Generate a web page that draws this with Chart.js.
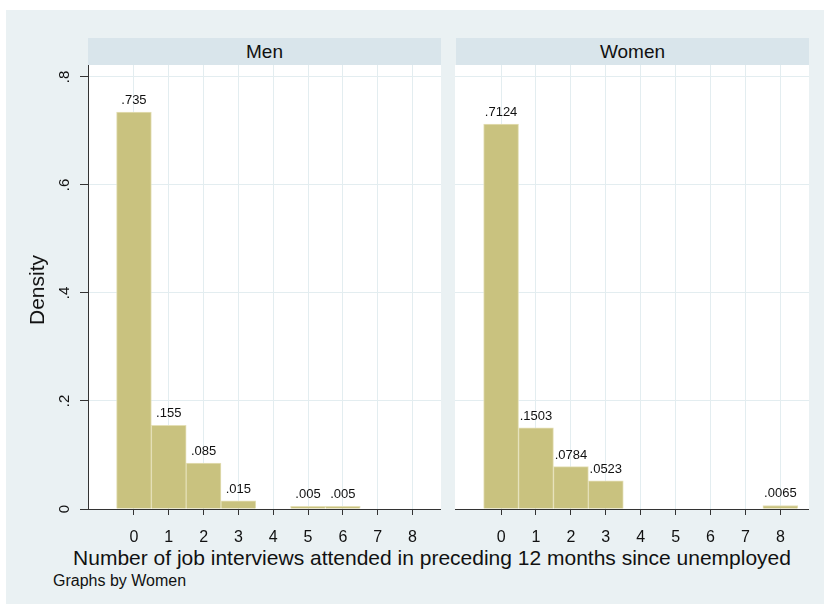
<!DOCTYPE html>
<html>
<head>
<meta charset="utf-8">
<script src="https://cdn.jsdelivr.net/npm/chart.js@4.4.0/dist/chart.umd.min.js"></script>
<style>
body { margin:0; background:#fff; font-family:"Liberation Sans", Arial, sans-serif; color:#111; }
#graph { position:absolute; left:6px; top:10px; width:818px; height:594px; background:#eaf1f3; }
.strip { position:absolute; top:38px; height:27px; line-height:27px; width:353px; background:#d9e5eb; text-align:center; font-size:19px; }
.txt { position:absolute; white-space:nowrap; }
canvas { position:absolute; }
</style>
</head>
<body>
<div id="graph"></div>
<div class="strip" style="left:88px">Men</div>
<div class="strip" style="left:456px">Women</div>
<canvas id="men" width="441" height="480" style="left:0px;top:65px"></canvas>
<canvas id="women" width="354" height="480" style="left:455px;top:65px"></canvas>
<div class="txt" style="left:37px;top:290px;font-size:21px;transform:translate(-50%,-50%) rotate(-90deg)">Density</div>
<div class="txt" style="left:432px;top:558px;font-size:21px;transform:translate(-50%,-50%)">Number of job interviews attended in preceding 12 months since unemployed</div>
<div class="txt" style="left:53px;top:581px;font-size:16px;transform:translateY(-50%)">Graphs by Women</div>
<script>
var bins = [0, 1, 2, 3, 4, 5, 6, 7, 8];
var menDensity = [0.735, 0.155, 0.085, 0.015, 0, 0.005, 0.005, 0, 0];
var womenDensity = [0.7124, 0.1503, 0.0784, 0.0523, 0, 0, 0, 0, 0.0065];
var yTicks = [0, 0.2, 0.4, 0.6, 0.8];
var xTicks = bins;

var FONT = '"Liberation Sans", Arial, sans-serif';

// stata style: drop the leading zero
function fmt(v) {
    return v === 0 ? '0' : String(v).replace(/^0/, '');
}

var plotBg = {
    id: 'plotBg',
    beforeDraw: function(chart) {
        var a = chart.chartArea, ctx = chart.ctx;
        ctx.save();
        ctx.fillStyle = '#fff';
        ctx.fillRect(a.left, a.top, a.right - a.left, a.bottom - a.top);
        ctx.restore();
    }
};

var barLabels = {
    id: 'barLabels',
    afterDatasetsDraw: function(chart) {
        var ctx = chart.ctx;
        var meta = chart.getDatasetMeta(0);
        var vals = chart.data.datasets[0].data;
        ctx.save();
        ctx.font = '13px ' + FONT;
        ctx.fillStyle = '#111';
        ctx.textAlign = 'center';
        ctx.textBaseline = 'alphabetic';
        meta.data.forEach(function(bar, i) {
            var v = vals[i].y;
            if (v > 0) ctx.fillText(fmt(v), bar.x, bar.y - 8);
        });
        ctx.restore();
    }
};

var yLabels = {
    id: 'yLabels',
    afterDraw: function(chart) {
        var ctx = chart.ctx, ys = chart.scales.y;
        ctx.save();
        ctx.font = '15px ' + FONT;
        ctx.fillStyle = '#111';
        ctx.textAlign = 'center';
        ctx.textBaseline = 'middle';
        yTicks.forEach(function(v) {
            ctx.save();
            ctx.translate(65, ys.getPixelForValue(v));
            ctx.rotate(-Math.PI / 2);
            ctx.fillText(fmt(v), 0, 0);
            ctx.restore();
        });
        ctx.restore();
    }
};

function panel(id, values, showY) {
    var plugins = [plotBg, barLabels];
    if (showY) plugins.push(yLabels);
    return new Chart(document.getElementById(id), {
        type: 'bar',
        data: {
            datasets: [{
                data: bins.map(function(b, i) { return {x: b, y: values[i]}; }),
                backgroundColor: '#c9c27f',
                borderColor: '#e4dfb6',
                borderWidth: 1,
                barPercentage: 1,
                categoryPercentage: 1
            }]
        },
        options: {
            responsive: false,
            animation: false,
            layout: { padding: 0 },
            plugins: { legend: { display: false }, tooltip: { enabled: false } },
            scales: {
                x: {
                    type: 'linear',
                    min: -1.32,
                    max: 8.82,
                    offset: false,
                    afterBuildTicks: function(s) { s.ticks = xTicks.map(function(v) { return {value: v}; }); },
                    afterFit: function(s) { s.height = 36; },
                    ticks: {
                        color: '#111',
                        font: { family: FONT, size: 16 },
                        padding: 13,
                        maxRotation: 0,
                        callback: function(v) { return String(v); }
                    },
                    grid: { color: '#e3edf0', offset: false, drawTicks: true, tickLength: 6, tickColor: '#333' },
                    border: { display: true, color: '#333', width: 1 }
                },
                y: {
                    min: 0,
                    max: 0.822,
                    afterBuildTicks: function(s) { s.ticks = yTicks.map(function(v) { return {value: v}; }); },
                    afterFit: function(s) { s.width = showY ? 88 : 0; },
                    ticks: { display: false },
                    grid: { color: '#e3edf0', drawTicks: showY, tickLength: 8, tickColor: '#333' },
                    border: { display: showY, color: '#333', width: 1 }
                }
            }
        },
        plugins: plugins
    });
}

panel('men', menDensity, true);
panel('women', womenDensity, false);
</script>
</body>
</html>
